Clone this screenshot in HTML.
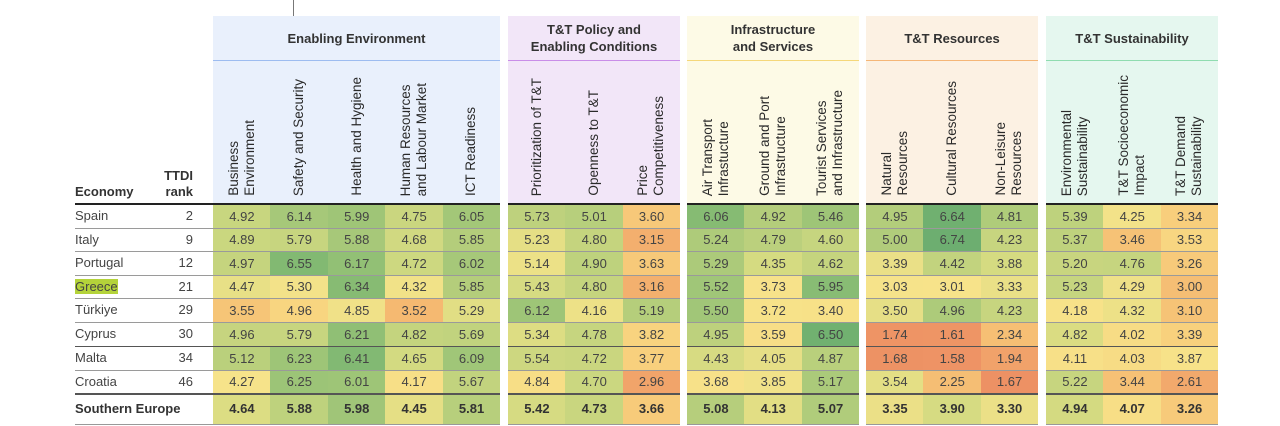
<!DOCTYPE html>
<html><head><meta charset="utf-8">
<style>
body{margin:0;width:1280px;height:426px;background:#fff;overflow:hidden;font-family:"Liberation Sans",Arial,sans-serif;color:#3a3a3a;position:relative}
.abs{position:absolute}
.grp{position:absolute;top:16px;height:188px}
.gtitle{position:absolute;left:0;right:0;top:0;height:44px;display:flex;align-items:center;justify-content:center;text-align:center;font-size:13px;font-weight:bold;line-height:17px;color:#333}
.gline{position:absolute;left:0;right:0;top:44px;height:1px}
.ch{position:absolute;writing-mode:vertical-rl;transform:rotate(180deg);font-size:13.5px;line-height:16px;color:#2a2a2a;white-space:nowrap}
.cell{position:absolute;display:flex;align-items:center;justify-content:center;font-size:13px;color:#444}
.rl{position:absolute;height:1px;background:#a8a8a8}
.lab{position:absolute;font-size:13px;color:#444}
</style></head><body>
<div class="abs" style="left:293px;top:0;width:1px;height:16px;background:#777"></div>
<div class="lab" style="left:75px;top:184px;font-weight:bold;color:#333">Economy</div>
<div class="lab" style="left:160px;top:168px;width:33px;text-align:right;font-weight:bold;line-height:16px;color:#333">TTDI<br>rank</div>
<div id="root"></div>
<script>
const groups=["Enabling Environment","T&T Policy and<br>Enabling Conditions","Infrastructure<br>and Services","T&T Resources","T&T Sustainability"];
const groupSizes=[5,3,3,3,3];
const columns=["Business<br>Environment","Safety and Security","Health and Hygiene","Human Resources<br>and Labour Market","ICT Readiness","Prioritization of T&T","Openness to T&T","Price<br>Competitiveness","Air Transport<br>Infrastucture","Ground and Port<br>Infrastructure","Tourist Services<br>and Infrastructure","Natural<br>Resources","Cultural Resources","Non-Leisure<br>Resources","Environmental<br>Sustainability","T&T Socioeconomic<br>Impact","T&T Demand<br>Sustainability"];
const economies=["Spain","Italy","Portugal","Greece","Türkiye","Cyprus","Malta","Croatia","Southern Europe"];
const ranks=["2","9","12","21","29","30","34","46",""];
const values=[
[4.92,6.14,5.99,4.75,6.05,5.73,5.01,3.60,6.06,4.92,5.46,4.95,6.64,4.81,5.39,4.25,3.34],
[4.89,5.79,5.88,4.68,5.85,5.23,4.80,3.15,5.24,4.79,4.60,5.00,6.74,4.23,5.37,3.46,3.53],
[4.97,6.55,6.17,4.72,6.02,5.14,4.90,3.63,5.29,4.35,4.62,3.39,4.42,3.88,5.20,4.76,3.26],
[4.47,5.30,6.34,4.32,5.85,5.43,4.80,3.16,5.52,3.73,5.95,3.03,3.01,3.33,5.23,4.29,3.00],
[3.55,4.96,4.85,3.52,5.29,6.12,4.16,5.19,5.50,3.72,3.40,3.50,4.96,4.23,4.18,4.32,3.10],
[4.96,5.79,6.21,4.82,5.69,5.34,4.78,3.82,4.95,3.59,6.50,1.74,1.61,2.34,4.82,4.02,3.39],
[5.12,6.23,6.41,4.65,6.09,5.54,4.72,3.77,4.43,4.05,4.87,1.68,1.58,1.94,4.11,4.03,3.87],
[4.27,6.25,6.01,4.17,5.67,4.84,4.70,2.96,3.68,3.85,5.17,3.54,2.25,1.67,5.22,3.44,2.61],
[4.64,5.88,5.98,4.45,5.81,5.42,4.73,3.66,5.08,4.13,5.07,3.35,3.90,3.30,4.94,4.07,3.26]];
const scaleLo=[2,3.5,2.5,2.5,3,2.5,1.5,2,0.5,1,0,1.2,1.0,1.2,2,2,1.5];
const scaleMid=[4.25,5.25,4.75,4.25,5,5,4,4.25,3.75,3.75,3.5,3.0,3.0,3.0,4.2,4.2,3.9];
const scaleHi=[6.5,7,7,6,7,7,6.5,6.5,7,6.5,7,7.5,7.2,7,7.5,6,6];

const stops=[[0,[233,128,94]],[0.15,[238,148,101]],[0.3,[245,187,114]],[0.4,[248,210,126]],[0.5,[247,227,138]],[0.6,[216,220,130]],[0.7,[184,207,124]],[0.8,[151,194,118]],[0.9,[121,181,113]],[1,[94,166,110]]];
function ramp(t){t=Math.max(0,Math.min(1,t));for(let i=1;i<stops.length;i++){if(t<=stops[i][0]){const a=stops[i-1],b=stops[i],f=(t-a[0])/(b[0]-a[0]);return 'rgb('+a[1].map((c,k)=>Math.round(c+(b[1][k]-c)*f)).join(',')+')';}}return 'rgb(94,166,110)';}
function colorOf(v,c){const lo=scaleLo[c],mid=scaleMid[c],hi=scaleHi[c];const t=v<mid?0.5*(v-lo)/(mid-lo):0.5+0.5*(v-mid)/(hi-mid);return ramp(t);}

const groupX=[213,508,687,866,1046];
const gW=[287,172,172,172,172];
const gBg=["#e9f0fc","#f2e6f8","#fdfae6","#fcf1e3","#e5f7ef"];
const gLine=["#9dbcf0","#c98de8","#f5d77a","#f5b677","#8fdcb0"];
const rowTop=[204,228,251,275,298,322,346,370,393];
const rowBot=[228,251,275,298,322,346,370,393,424];
const root=document.getElementById('root');
const colX=[];
let ci=0;
groups.forEach((g,gi)=>{
  const d=document.createElement('div');
  
  
  d.className='grp';d.style.left=groupX[gi]+'px';d.style.width=gW[gi]+'px';d.style.background=gBg[gi];
  d.innerHTML='<div class="gtitle">'+g+'</div><div class="gline" style="background:'+gLine[gi]+'"></div>';
  root.appendChild(d);
  const bg=document.createElement('div');
  
  
  bg.className='abs';bg.style.cssText='left:'+groupX[gi]+'px;top:204px;width:'+gW[gi]+'px;height:220px;background:'+gBg[gi];
  root.appendChild(bg);
  const w=gW[gi]/groupSizes[gi];
  for(let k=0;k<groupSizes[gi];k++){
    colX.push([groupX[gi]+k*w,w]);
    const h=document.createElement('div');
    
    
    h.className='ch';h.innerHTML=columns[ci];
    h.style.left=(groupX[gi]+k*w+w/2-(columns[ci].includes('<br>')?16:8))+'px';
    h.style.bottom=(426-196)+'px';
    root.appendChild(h);ci++;
  }
});
economies.forEach((e,r)=>{
  const bold=r===8;
  const y=rowTop[r],h=rowBot[r]-rowTop[r];
  const l=document.createElement('div');
  
  
  l.className='lab';l.textContent=e;
  l.style.cssText='left:75px;top:'+y+'px;height:'+h+'px;line-height:'+h+'px;'+(bold?'font-weight:bold;color:#333':'');
  if(e==='Greece'){l.innerHTML='<span style="background:#b4d33a">Greece</span>';}
  root.appendChild(l);
  const rk=document.createElement('div');
  
  
  rk.className='lab';rk.textContent=ranks[r];
  rk.style.cssText='left:160px;width:33px;text-align:right;top:'+y+'px;height:'+h+'px;line-height:'+h+'px';
  root.appendChild(rk);
  values[r].forEach((v,c)=>{
    const cell=document.createElement('div');
    
    
    cell.className='cell';
    cell.style.cssText='left:'+colX[c][0]+'px;width:'+(colX[c][1]+0.5)+'px;top:'+y+'px;height:'+h+'px;background:'+colorOf(v,c)+(bold?';font-weight:bold;color:#333':'');
    cell.textContent=v.toFixed(2);
    root.appendChild(cell);
  });
  if(r>0){
    const ln=document.createElement('div');
    
    
    ln.className='rl';
    const dark=(r===6||r===8);
    ln.style.cssText='left:75px;width:1143px;top:'+y+'px;background:'+(dark?'#555':'#9a9a9a')+(r===8?';height:1.5px':'');
    root.appendChild(ln);
  }
});
const headerRule=document.createElement('div');


headerRule.className='rl';headerRule.style.cssText='left:75px;width:1143px;top:203px;height:2px;background:#222';
root.appendChild(headerRule);
const bottomRule=document.createElement('div');


bottomRule.className='rl';bottomRule.style.cssText='left:75px;width:1143px;top:424px;background:#999';
root.appendChild(bottomRule);
[[500,8],[680,7],[859,7],[1038,8]].forEach(g=>{
  const s=document.createElement('div');
  
  
  s.className='abs';s.style.cssText='left:'+g[0]+'px;width:'+g[1]+'px;top:0;height:426px;background:#fff';
  root.appendChild(s);
});
</script>
</body></html>
